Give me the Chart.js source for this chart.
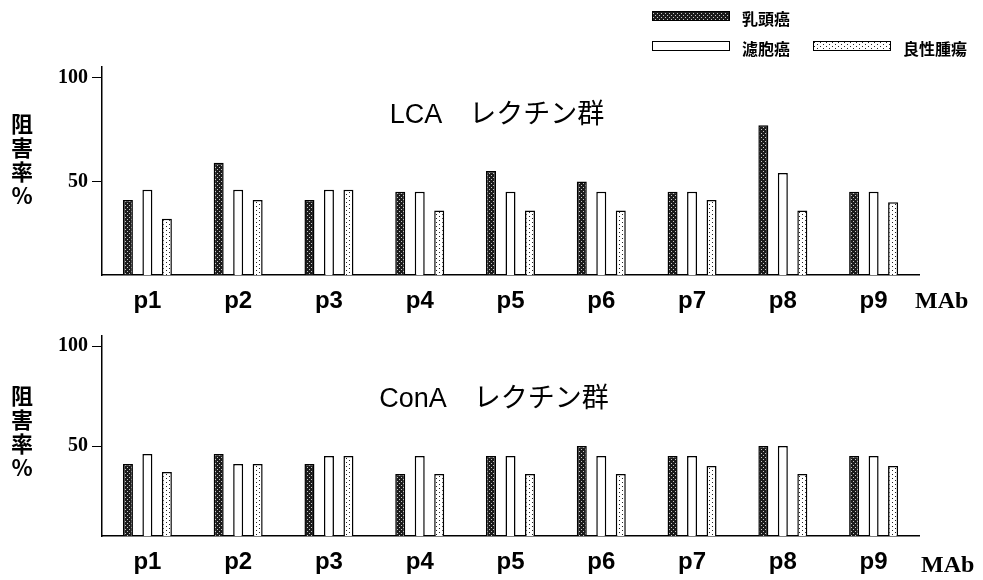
<!DOCTYPE html>
<html>
<head>
<meta charset="utf-8">
<script src="https://cdn.jsdelivr.net/npm/chart.js@4/dist/chart.umd.min.js"></script>
<style>
  html, body { margin: 0; padding: 0; background: #ffffff; }
  #wrap { position: relative; width: 983px; height: 580px; overflow: hidden; }
  .box { position: absolute; left: 0; width: 983px; }
</style>
</head>
<body>
<div id="wrap">
  <div class="box" style="top:0;height:320px;"><canvas id="c1" width="983" height="320"></canvas></div>
  <div class="box" style="top:320px;height:260px;"><canvas id="c2" width="983" height="260"></canvas></div>
</div>
<script>
// ---- data ----
const categories = ['p1', 'p2', 'p3', 'p4', 'p5', 'p6', 'p7', 'p8', 'p9'];
const seriesNames = ['乳頭癌', '濾胞癌', '良性腫瘍'];
const lcaPapillary  = [41, 59, 41, 45, 55, 50, 45, 77, 45];
const lcaFollicular = [46, 46, 46, 45, 45, 45, 45, 54, 45];
const lcaBenign     = [32, 41, 46, 36, 36, 36, 41, 36, 40];
const conaPapillary  = [41, 46, 41, 36, 45, 50, 45, 50, 45];
const conaFollicular = [46, 41, 45, 45, 45, 45, 45, 50, 45];
const conaBenign     = [37, 41, 45, 36, 36, 36, 40, 36, 40];
const yTicks = [50, 100];
const yTitleChars = ['阻', '害', '率', '%'];
const xUnit = 'MAb';

// ---- patterns ----
function makePattern(w, h, bg, dots, dotColor) {
  const c = document.createElement('canvas');
  c.width = w; c.height = h;
  const g = c.getContext('2d');
  g.fillStyle = bg; g.fillRect(0, 0, w, h);
  g.fillStyle = dotColor;
  dots.forEach(d => g.fillRect(d[0], d[1], 1, 1));
  return g.createPattern(c, 'repeat');
}
const darkFill = makePattern(4, 4, '#1c1c1c', [[1, 1], [3, 3]], '#c8c8c8');
const dotFill = makePattern(6, 4, '#ffffff', [[1, 0], [4, 2]], '#222222');
const whiteFill = '#ffffff';
const fills = [darkFill, whiteFill, dotFill];

// ---- decoration plugin ----
const decoPlugin = {
  id: 'deco',
  afterDraw(chart, args, opts) {
    const ctx = chart.ctx;
    const area = chart.chartArea;
    ctx.save();
    ctx.fillStyle = '#000';
    ctx.textAlign = 'center';
    ctx.textBaseline = 'middle';
    ctx.font = '27px "Liberation Sans", "Noto Sans CJK JP"';
    ctx.fillText(opts.title, opts.titleX, opts.titleY);
    ctx.font = 'bold 22px "Noto Sans CJK JP"';
    yTitleChars.forEach((ch, i) => {
      ctx.fillText(ch, 22, opts.yTitleY + i * 23.8);
    });
    ctx.textAlign = 'left';
    ctx.textBaseline = 'alphabetic';
    ctx.font = 'bold 24px "Liberation Serif"';
    ctx.fillText(xUnit, area.right + opts.unitDx, area.bottom + opts.unitDy);
    if (opts.legend) {
      const pos = [[652, 11], [652, 41], [813, 41]];
      chart.data.datasets.forEach((ds, i) => {
        const [x, y] = pos[i];
        ctx.fillStyle = ds.backgroundColor;
        ctx.fillRect(x, y, 77, 9);
        ctx.strokeStyle = '#000';
        ctx.lineWidth = 1;
        ctx.strokeRect(x + 0.5, y + 0.5, 77, 9);
        ctx.fillStyle = '#000';
        ctx.font = 'bold 16px "Noto Sans CJK JP"';
        ctx.textBaseline = 'middle';
        ctx.fillText(ds.label, x + 90, y + 8);
      });
    }
    ctx.restore();
  }
};

function makeChart(id, series, deco, padTop, xHeight) {
  return new Chart(document.getElementById(id), {
    type: 'bar',
    data: {
      labels: categories,
      datasets: series.map((vals, i) => ({
        label: seriesNames[i],
        data: vals,
        backgroundColor: fills[i],
        borderColor: '#000',
        borderWidth: 1.5,
        categoryPercentage: 0.644,
        barPercentage: 0.513
      }))
    },
    options: {
      responsive: false,
      animation: false,
      layout: { padding: { top: padTop, right: 64, left: 0, bottom: 0 } },
      plugins: { legend: { display: false }, tooltip: { enabled: false }, deco: deco },
      scales: {
        x: {
          type: 'category',
          offset: true,
          grid: { display: false, drawTicks: false },
          border: { display: true, color: '#000', width: 1.5 },
          ticks: { color: '#000', font: { family: '"Liberation Sans"', size: 24, weight: 'bold' }, padding: 12, maxRotation: 0, autoSkip: false },
          afterFit: s => { s.height = xHeight; }
        },
        y: {
          type: 'linear',
          min: 5,
          max: 105,
          afterBuildTicks: s => { s.ticks = yTicks.map(v => ({ value: v })); },
          grid: { drawOnChartArea: false, drawTicks: true, tickLength: 10, color: '#000', lineWidth: 1 },
          border: { display: true, color: '#000', width: 1.5 },
          ticks: { color: '#000', font: { family: '"Liberation Serif"', size: 20, weight: 'bold' }, padding: 4 },
          afterFit: s => { s.width = 102; }
        }
      }
    },
    plugins: [decoPlugin]
  });
}

makeChart('c1', [lcaPapillary, lcaFollicular, lcaBenign],
  { title: 'LCA　レクチン群', titleX: 497, titleY: 116, yTitleY: 124, unitDx: -4, unitDy: 33, legend: true }, 67, 45);
makeChart('c2', [conaPapillary, conaFollicular, conaBenign],
  { title: 'ConA　レクチン群', titleX: 494, titleY: 80, yTitleY: 76, unitDx: 2, unitDy: 36, legend: false }, 8, 44);
</script>
</body>
</html>
